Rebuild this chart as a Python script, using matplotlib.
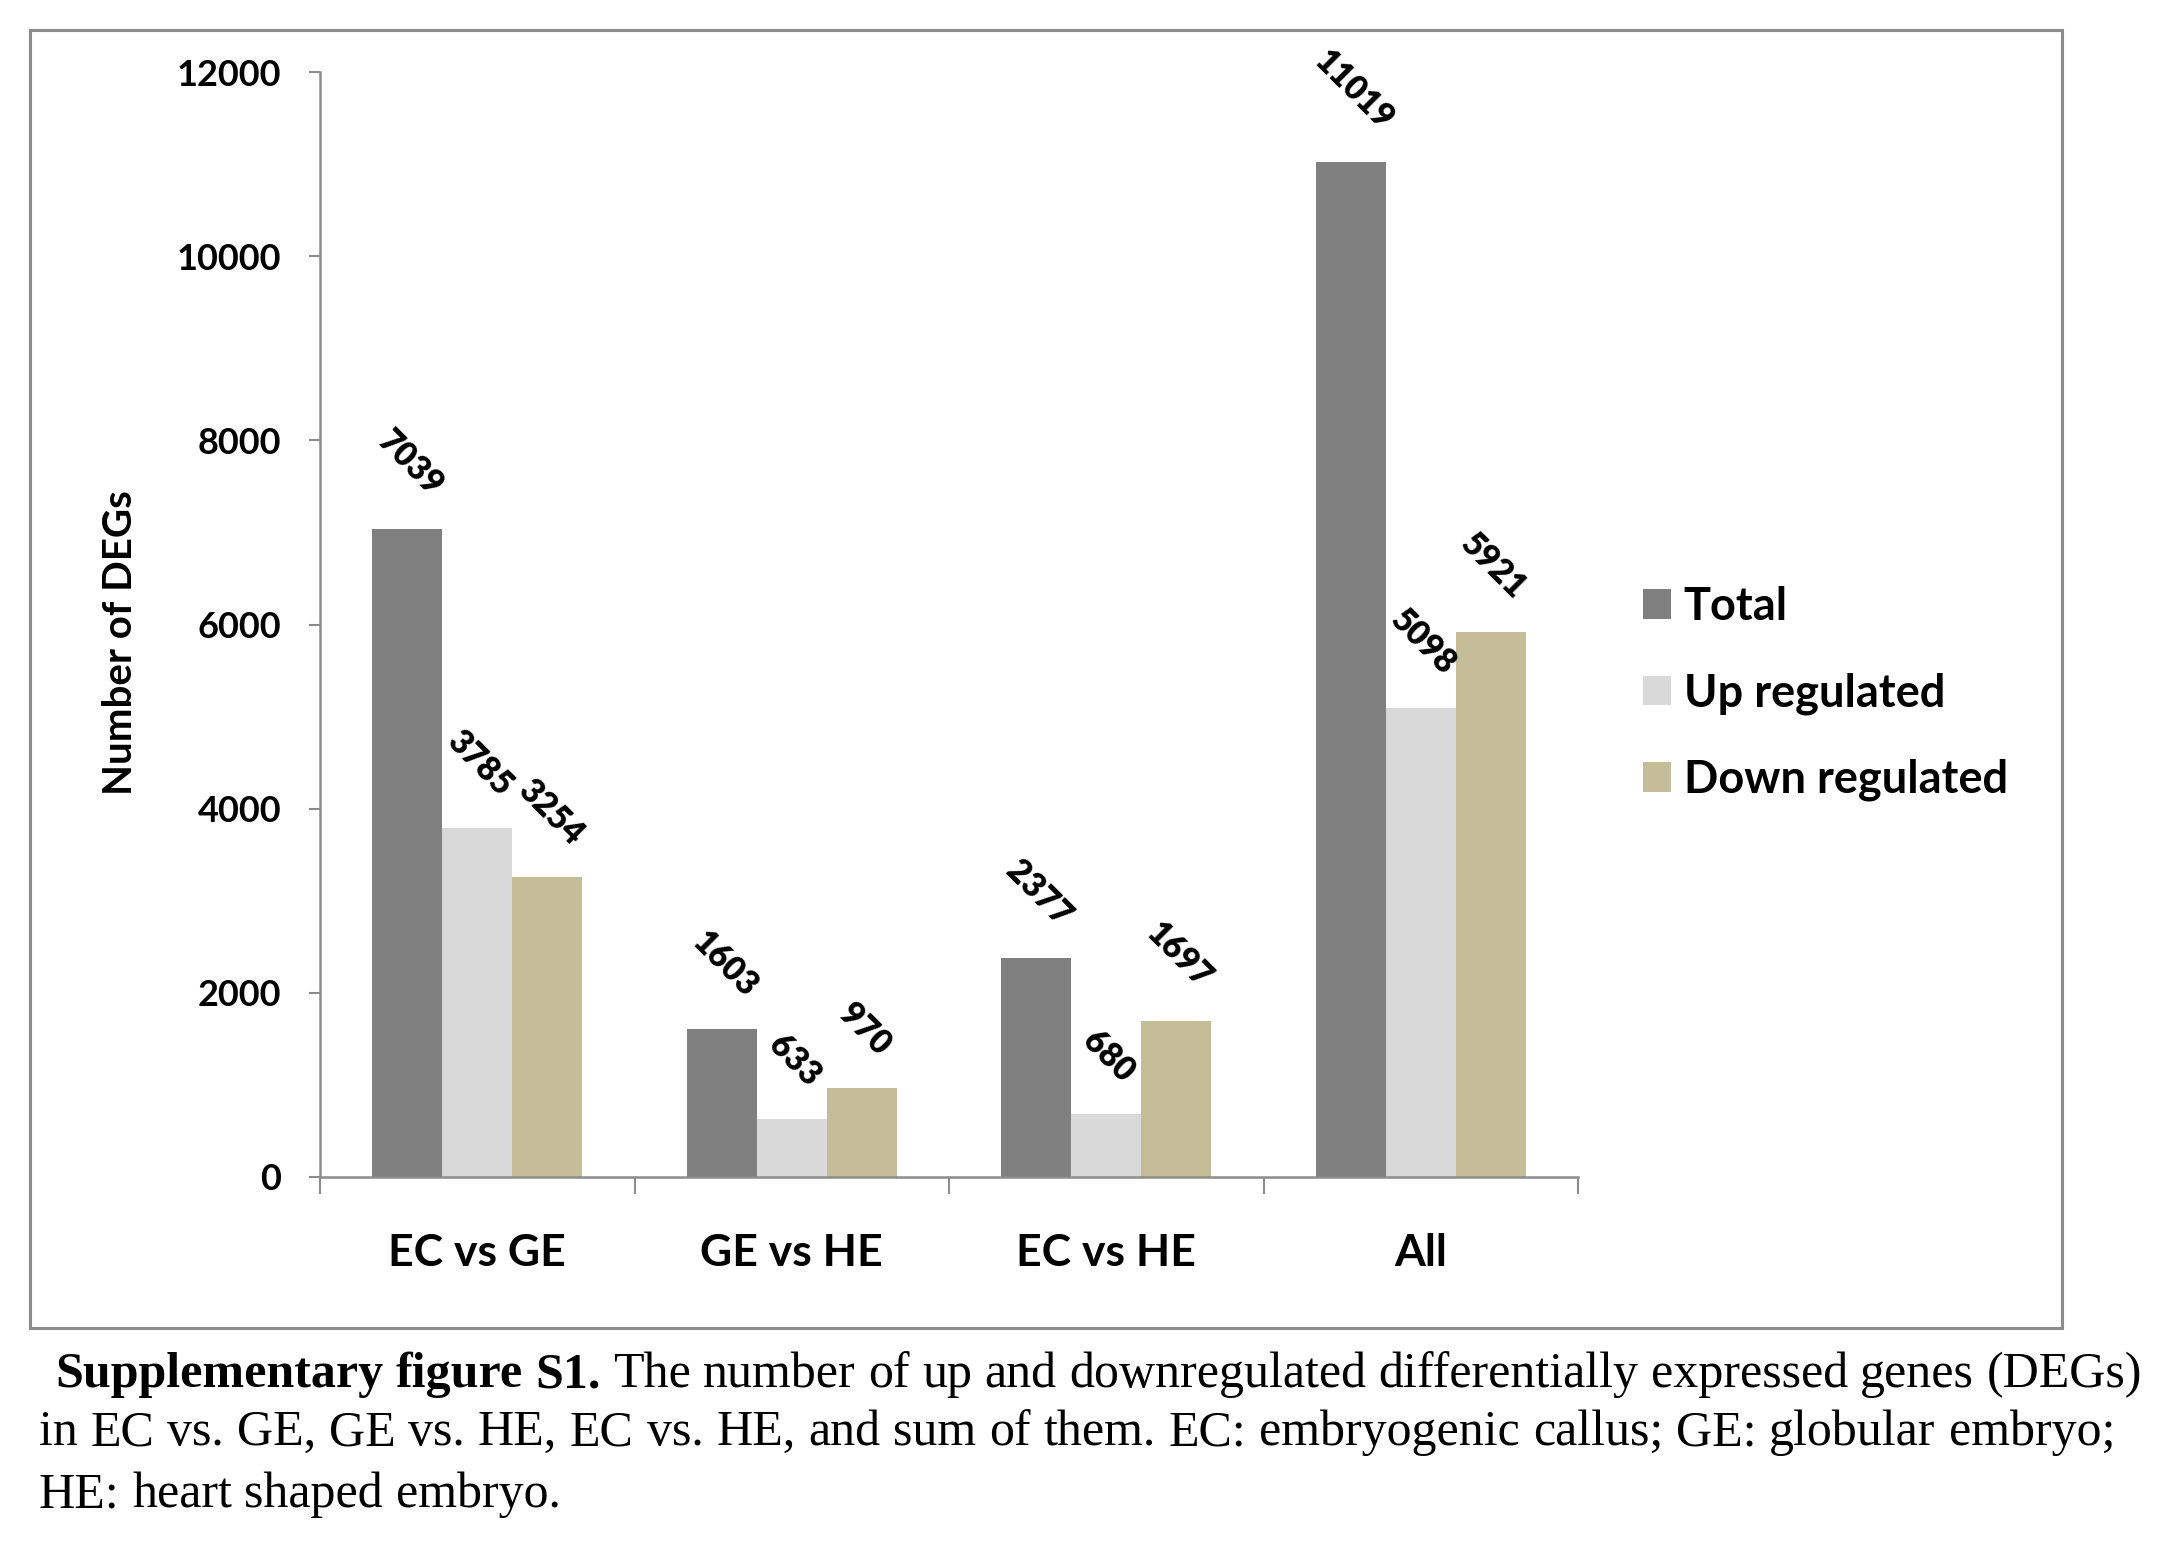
import matplotlib
matplotlib.use("Agg")
import matplotlib.pyplot as plt
import numpy as np
from matplotlib.patches import Rectangle

categories = ["EC vs GE", "GE vs HE", "EC vs HE", "All"]
series_names = ["Total", "Up regulated", "Down regulated"]
total = [7039, 1603, 2377, 11019]
up = [3785, 633, 680, 5098]
down = [3254, 970, 1697, 5921]
colors = ["#808080", "#D9D9D9", "#C4BD97"]
yticks = [0, 2000, 4000, 6000, 8000, 10000, 12000]

W, H = 2170, 1545
fig = plt.figure(figsize=(W / 100, H / 100), dpi=100)
fig.patch.set_facecolor("white")

CF = "Lato"

# outer frame
fig.patches.append(Rectangle((30 / W, 1 - 1328 / H), (2062 - 30) / W, (1328 - 30) / H,
                             transform=fig.transFigure, fill=False,
                             edgecolor="#8c8c8c", linewidth=2.2))

ax = fig.add_axes([320 / W, 1 - 1177 / H, (1578 - 320) / W, (1177 - 72) / H])
x = np.arange(len(categories))
bw = 0.223
for k, (vals, name, c) in enumerate(zip([total, up, down], series_names, colors)):
    pos = x + (k - 1) * bw
    ax.bar(pos, vals, bw, color=c, label=name, zorder=2)
    for p, v in zip(pos, vals):
        ax.annotate(str(v), (p, v), xytext=(2, 19), textcoords="offset points",
                    ha="center", va="bottom", rotation=-45,
                    fontsize=24, fontweight="heavy", family=CF)

ax.set_xlim(-0.5, len(categories) - 0.5)
ax.set_ylim(0, 12000)
ax.set_yticks(yticks)
ax.set_yticklabels([str(t) for t in yticks], fontsize=26, fontweight="bold", family=CF)
ax.set_xticks(np.arange(len(categories) + 1) - 0.5)
ax.set_xticklabels([])
ax.set_xticks(x, minor=True)
ax.set_xticklabels(categories, minor=True, fontsize=32, fontweight="bold", family=CF)
ax.tick_params(axis="x", which="major", length=12, width=1.5, color="#8c8c8c", direction="out")
ax.tick_params(axis="x", which="minor", length=0, pad=40)
ax.tick_params(axis="y", length=8, width=1.5, color="#8c8c8c", pad=20)
for s in ["top", "right"]:
    ax.spines[s].set_visible(False)
for s in ["left", "bottom"]:
    ax.spines[s].set_color("#8c8c8c")
    ax.spines[s].set_linewidth(1.8)

fig.text(120 / W, 1 - 643 / H, "Number of DEGs", rotation=90, ha="center", va="center",
         fontsize=29, fontweight="bold", family=CF)

ax.legend(loc="upper left", bbox_to_anchor=(1643 / W, 1 - 586 / H),
          bbox_transform=fig.transFigure, frameon=False, borderpad=0,
          borderaxespad=0, handlelength=0.62, handleheight=0.62,
          handletextpad=0.28, labelspacing=0.98,
          prop={"family": CF, "weight": "bold", "size": 32.5})

# caption (justified)
cap_size = 36
lines = [
    ([("Supplementary", "bold"), ("figure", "bold"), ("S1.", "bold"), ("The", "normal"),
      ("number", "normal"), ("of", "normal"), ("up", "normal"), ("and", "normal"),
      ("downregulated", "normal"), ("differentially", "normal"), ("expressed", "normal"),
      ("genes", "normal"), ("(DEGs)", "normal")], 55, 2142, 1387, True),
    ([(w, "normal") for w in "in EC vs. GE, GE vs. HE, EC vs. HE, and sum of them. EC: embryogenic callus; GE: globular embryo;".split()],
     39, 2115, 1445, True),
    ([(w, "normal") for w in "HE: heart shaped embryo.".split()], 39, None, 1507, False),
]
renderer = fig.canvas.get_renderer()
for words, x0, x1, base, justify in lines:
    texts = []
    widths = []
    for w, wt in words:
        t = fig.text(0, 1 - base / H, w, fontsize=cap_size, fontweight=wt,
                     family="Liberation Serif", ha="left", va="baseline")
        texts.append(t)
        widths.append(t.get_window_extent(renderer).width)
    if justify:
        gap = (x1 - x0 - sum(widths)) / (len(words) - 1)
    else:
        sp = fig.text(0, 0, "a a", fontsize=cap_size, family="Liberation Serif")
        sp2 = fig.text(0, 0, "aa", fontsize=cap_size, family="Liberation Serif")
        gap = sp.get_window_extent(renderer).width - sp2.get_window_extent(renderer).width
        sp.remove(); sp2.remove()
    cx = x0
    for t, wd in zip(texts, widths):
        t.set_x(cx / W)
        cx += wd + gap

fig.savefig("out.png", dpi=100, facecolor="white")
